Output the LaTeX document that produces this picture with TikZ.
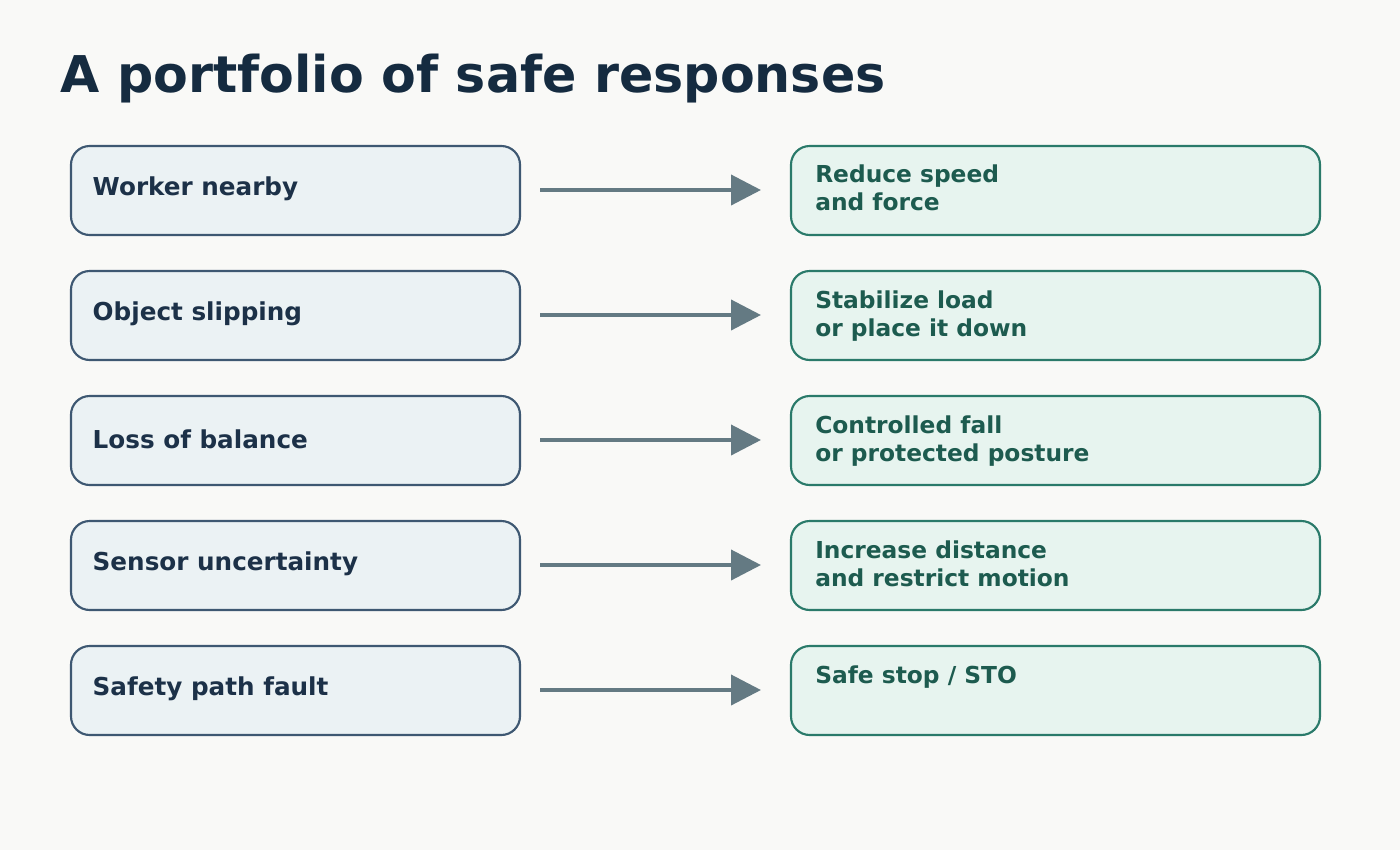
\documentclass[tikz,border=0pt]{standalone}
\usepackage{fontspec}
\setmainfont{DejaVu Sans}
\usetikzlibrary{arrows.meta}
\definecolor{bg}{HTML}{F9F9F7}
\definecolor{lfill}{HTML}{EBF2F4}
\definecolor{ldraw}{HTML}{3E5872}
\definecolor{ltext}{HTML}{1C3148}
\definecolor{rfill}{HTML}{E7F4EF}
\definecolor{rdraw}{HTML}{2A7A6A}
\definecolor{rtext}{HTML}{1D5B4F}
\definecolor{arr}{HTML}{647A83}
\definecolor{ttl}{HTML}{152B40}
\begin{document}
\begin{tikzpicture}[x=0.75pt,y=-0.75pt,
  lbox/.style={draw=ldraw,fill=lfill,line width=1.6pt,rounded corners=14pt,minimum width=449*0.75pt,minimum height=89*0.75pt,inner sep=0pt},
  rbox/.style={draw=rdraw,fill=rfill,line width=1.6pt,rounded corners=14pt,minimum width=529*0.75pt,minimum height=89*0.75pt,inner sep=0pt},
  ltxt/.style={anchor=west,text=ltext,font=\bfseries\fontsize{18.5pt}{21pt}\selectfont},
  rtxt/.style={anchor=north west,text=rtext,align=left,font=\bfseries\fontsize{17.5pt}{21pt}\selectfont,inner sep=0pt},
  ar/.style={draw=arr,line width=3pt,-{Triangle[length=22.5pt,width=22.5pt]}}]
\fill[bg] (0,0) rectangle (1400,850);
\useasboundingbox (0,0) rectangle (1400,850);
\node[anchor=base west,text=ttl,font=\bfseries\fontsize{38pt}{44pt}\selectfont,inner sep=0pt] (title) at (60,92) {A portfolio of safe responses};
\foreach \i/\l/\r in {0/Worker nearby/{Reduce speed\\and force},1/Object slipping/{Stabilize load\\or place it down},2/Loss of balance/{Controlled fall\\or protected posture},3/Sensor uncertainty/{Increase distance\\and restrict motion},4/Safety path fault/{Safe stop / STO}}{
  \node[lbox] (L\i) at (295.5,190.5+125*\i) {};
  \node[ltxt] (LT\i) at (88,189+125*\i) {\l};
  \node[rbox] (R\i) at (1055.5,190.5+125*\i) {};
  \node[rtxt] (RT\i) at (815,165+125*\i) {\r};
  \coordinate (a\i) at (540,190+125*\i);
  \coordinate (b\i) at (761,190+125*\i);
  \draw[ar] (a\i) -- (b\i);
}
\end{tikzpicture}
\end{document}
